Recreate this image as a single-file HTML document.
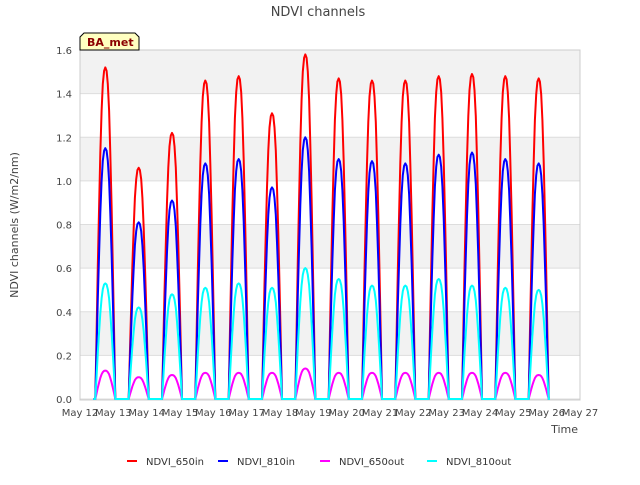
<!DOCTYPE html>
<html><head><meta charset="utf-8"><style>
body{margin:0;background:#fff;font-family:"Liberation Sans","DejaVu Sans",sans-serif}
svg text{font-family:"DejaVu Sans","Liberation Sans",sans-serif}
</style></head><body>
<svg id="chart" width="640" height="480" viewBox="0 0 640 480" xmlns="http://www.w3.org/2000/svg">
<rect width="640" height="480" fill="#fff"/>
<text x="318" y="16" text-anchor="middle" font-size="13" fill="#444">NDVI channels</text>
<g id="bands"></g><g id="grid"></g>
<rect x="80" y="50" width="500" height="350" fill="none" stroke="#ccc"/>
<g id="series"></g><g id="yticks"></g><g id="xticks"></g>
<text transform="translate(18,225) rotate(-90)" text-anchor="middle" font-size="11" fill="#444">NDVI channels (W/m2/nm)</text>
<text x="578" y="433" text-anchor="end" font-size="11" fill="#444">Time</text>
<g>
<path d="M80,50 L80,37 L84,33 L135,33 L139,37 L139,50 Z" fill="#ffffc0" stroke="#000"/>
<text x="87" y="46" font-size="11" font-weight="bold" fill="#8b0000">BA_met</text></g>
<g id="legend"></g>
</svg>
<script>
const days=["May 12","May 13","May 14","May 15","May 16","May 17","May 18","May 19","May 20","May 21","May 22","May 23","May 24","May 25","May 26","May 27"];
const yTicks=[0,0.2,0.4,0.6,0.8,1.0,1.2,1.4,1.6];
const peak650in=[1.52,1.06,1.22,1.46,1.48,1.31,1.58,1.47,1.46,1.46,1.48,1.49,1.48,1.47];
const peak810in=[1.15,0.81,0.91,1.08,1.10,0.97,1.20,1.10,1.09,1.08,1.12,1.13,1.10,1.08];
const peak650out=[0.13,0.10,0.11,0.12,0.12,0.12,0.14,0.12,0.12,0.12,0.12,0.12,0.12,0.11];
const peak810out=[0.53,0.42,0.48,0.51,0.53,0.51,0.60,0.55,0.52,0.52,0.55,0.52,0.51,0.50];
const profile=[0,0.2,0.4,0.58,0.74,0.87,0.95,0.99,1.0,0.99,0.95,0.87,0.74,0.58,0.4,0.2,0];
const NS="http://www.w3.org/2000/svg";
const X0=80,X1=580,Y0=399,Y1=50;
const xs=d=>X0+(d/15)*(X1-X0);
const ys=v=>Y0-(v/1.6)*(Y0-Y1);
function mk(tag,attrs,parent){const e=document.createElementNS(NS,tag);for(const k in attrs)e.setAttribute(k,attrs[k]);document.getElementById(parent).appendChild(e);return e;}
for(let i=0;i<8;i++){if(i%2===1){const r=mk('rect',{x:X0,y:ys(yTicks[i+1]),width:X1-X0,height:ys(yTicks[i])-ys(yTicks[i+1]),fill:'#f2f2f2'},'bands');

}}
yTicks.forEach(v=>{const l=mk('line',{x1:X0,x2:X1,y1:ys(v),y2:ys(v),stroke:'#ddd'},'grid');


const t=mk('text',{x:72,y:ys(v)+4,'text-anchor':'end','font-size':'10',fill:'#444'},'yticks');t.textContent=v.toFixed(1);

});
days.forEach((d,i)=>{const t=mk('text',{x:xs(i),y:416,'text-anchor':'middle','font-size':'10',fill:'#444'},'xticks');t.textContent=d;

});
const series=[["NDVI_650in",peak650in,"#ff0000"],["NDVI_810in",peak810in,"#0000ff"],["NDVI_650out",peak650out,"#ff00ff"],["NDVI_810out",peak810out,"#00ffff"]];
series.forEach(([name,pk,col])=>{let pts=[];const start=0.46,len=0.6;
pts.push([xs(0.4),ys(0)]);
pk.forEach((p,i)=>{profile.forEach((f,j)=>{pts.push([xs(i+start+len*j/(profile.length-1)),ys(p*f)]);});});
pts.push([xs(pk.length+0.1),ys(0)]);
const pl=mk('polyline',{points:pts.map(q=>q[0].toFixed(1)+','+q[1].toFixed(1)).join(' '),fill:'none',stroke:col,'stroke-width':2,'stroke-linejoin':'round'},'series');

});
const lx=[127,218,320,427];
series.forEach(([name,pk,col],i)=>{const g=mk('g',{},'legend');


const l=document.createElementNS(NS,'line');l.setAttribute('x1',lx[i]);l.setAttribute('x2',lx[i]+10);l.setAttribute('y1',461);l.setAttribute('y2',461);l.setAttribute('stroke',col);l.setAttribute('stroke-width',2);g.appendChild(l);
const t=document.createElementNS(NS,'text');t.setAttribute('x',lx[i]+19);t.setAttribute('y',465);t.setAttribute('font-size','10');t.setAttribute('fill','#333');t.textContent=name;g.appendChild(t);});
</script>
</body></html>
